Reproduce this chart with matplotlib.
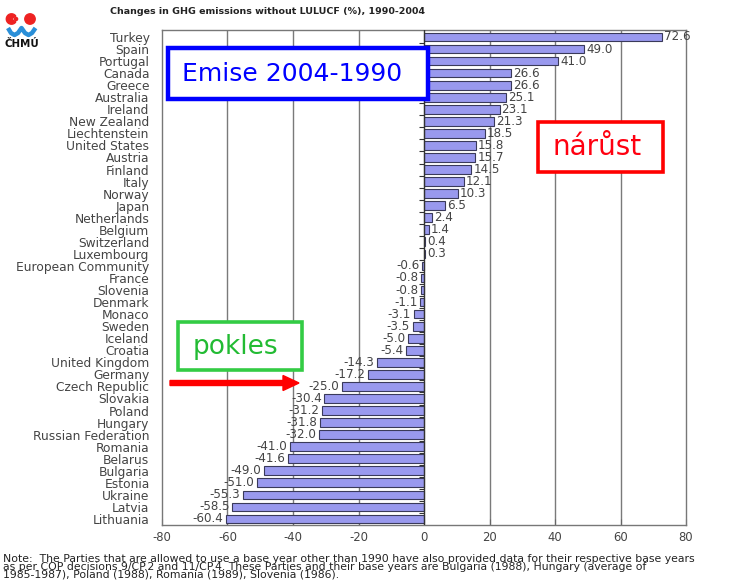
# Changes in GHG emissions without LULUCF (%), 1990-2004 - horizontal bar chart
# ============================================

# Imports
import numpy as np
import matplotlib.pyplot as plt
from matplotlib.patches import Rectangle, Circle, Wedge, FancyArrow

# Data
# ============================================
countries = [
    "Turkey", "Spain", "Portugal", "Canada", "Greece", "Australia", "Ireland",
    "New Zealand", "Liechtenstein", "United States", "Austria", "Finland",
    "Italy", "Norway", "Japan", "Netherlands", "Belgium", "Switzerland",
    "Luxembourg", "European Community", "France", "Slovenia", "Denmark",
    "Monaco", "Sweden", "Iceland", "Croatia", "United Kingdom", "Germany",
    "Czech Republic", "Slovakia", "Poland", "Hungary", "Russian Federation",
    "Romania", "Belarus", "Bulgaria", "Estonia", "Ukraine", "Latvia", "Lithuania",
]
changes = [
    72.6, 49.0, 41.0, 26.6, 26.6, 25.1, 23.1, 21.3, 18.5, 15.8, 15.7, 14.5,
    12.1, 10.3, 6.5, 2.4, 1.4, 0.4, 0.3, -0.6, -0.8, -0.8, -1.1, -3.1, -3.5,
    -5.0, -5.4, -14.3, -17.2, -25.0, -30.4, -31.2, -31.8, -32.0, -41.0, -41.6,
    -49.0, -51.0, -55.3, -58.5, -60.4,
]
x_ticks = [-80, -60, -40, -20, 0, 20, 40, 60, 80]

title = "Changes in GHG emissions without LULUCF (%), 1990-2004"
note = ("Note:  The Parties that are allowed to use a base year other than 1990 have also provided data for their respective base years\n"
        "as per COP decisions 9/CP.2 and 11/CP.4. These Parties and their base years are Bulgaria (1988), Hungary (average of\n"
        "1985-1987), Poland (1988), Romania (1989), Slovenia (1986).")

# Plotting Configuration
# ============================================
plt.rcParams.update({
    "font.family": "DejaVu Sans",
    "font.size": 8,
})

W, H = 744, 581
bar_color = '#9999ee'
edge_color = '#3a3a5a'
text_gray = '#444444'
grid_gray = '#7a7a7a'


def main():
    fig = plt.figure(figsize=(W / 100, H / 100), dpi=100)
    fig.patch.set_facecolor('white')

    # ------------------------------------------------------------------
    # 1. Bar chart
    # ------------------------------------------------------------------
    ax = fig.add_axes([162 / W, 1 - 525 / H, (686 - 162) / W, (525 - 30) / H])
    y = np.arange(len(countries))
    ax.barh(y, changes, height=0.72, color=bar_color, edgecolor=edge_color,
            linewidth=0.8, zorder=3)

    for yi, v in zip(y, changes):
        if v >= 0:
            ax.text(v + 0.6, yi, f"{v:.1f}", ha='left', va='center',
                    color=text_gray, fontsize=8.6, zorder=4)
        else:
            ax.text(v - 0.8, yi, f"{v:.1f}", ha='right', va='center',
                    color=text_gray, fontsize=8.6, zorder=4)

    ax.set_xlim(x_ticks[0], x_ticks[-1])
    ax.set_ylim(len(countries) - 0.5, -0.58)
    ax.set_xticks(x_ticks)
    ax.set_xticklabels([str(t) for t in x_ticks], color=text_gray, fontsize=8.4)
    ax.tick_params(axis='x', direction='in', length=4, color='#666666', pad=4)
    ax.set_yticks(y)
    ax.set_yticklabels(countries, color=text_gray, fontsize=8.8)
    ax.tick_params(axis='y', length=0, pad=9)

    # vertical gridlines and the zero axis with category ticks
    for t in x_ticks[1:-1]:
        if t != 0:
            ax.axvline(t, color=grid_gray, linewidth=1.0, zorder=1)
    ax.axvline(0, color='#333333', linewidth=1.0, zorder=5)
    ax.hlines(y[:-1] + 0.5, -1.6, 0, color='#333333', linewidth=0.8, zorder=5)

    for side in ['left', 'bottom', 'top', 'right']:
        ax.spines[side].set_color('#777777')
        ax.spines[side].set_linewidth(1.0)

    # ------------------------------------------------------------------
    # 2. Overlay in pixel coordinates: title, logo, boxes, arrow, note
    # ------------------------------------------------------------------
    ov = fig.add_axes([0, 0, 1, 1], zorder=10)
    ov.set_xlim(0, W)
    ov.set_ylim(H, 0)
    ov.axis('off')
    ov.patch.set_alpha(0)

    ov.text(268, 11, title, ha='center', va='center', fontsize=6.8,
            fontweight='bold', color='#222222')

    # logo
    ov.add_patch(Wedge((11.5, 19), 5.2, 35, 325, color='#ee2222'))
    ov.add_patch(Circle((16, 19), 1.6, color='#ee2222'))
    ov.add_patch(Circle((30, 19), 5.2, color='#ee2222'))
    ov.plot([8, 11, 14.5, 18, 21.5, 25, 28.5, 32, 35.5],
            [28, 33, 35, 33, 28, 33, 35, 33, 28],
            color='#2a8fd8', linewidth=3.2, solid_capstyle='butt',
            solid_joinstyle='round')
    ov.text(22, 44, "ČHMÚ", ha='center', va='center', fontsize=7.4,
            fontweight='bold', color='#111111')

    # annotation boxes
    ov.add_patch(Rectangle((168, 48), 260, 51, fill=True, facecolor='white',
                           edgecolor='#0000ff', linewidth=3.2))
    ov.text(292, 74, "Emise 2004-1990", ha='center', va='center',
            fontsize=18, color='#0000ff')

    ov.add_patch(Rectangle((538, 122), 125, 50, fill=True, facecolor='white',
                           edgecolor='#ff0000', linewidth=2.6))
    ov.text(597, 147, "nárůst", ha='center', va='center', fontsize=20,
            color='#ff0010')

    ov.add_patch(Rectangle((178, 322), 124, 48, fill=True, facecolor='white',
                           edgecolor='#33cc44', linewidth=2.6))
    ov.text(235, 347, "pokles", ha='center', va='center', fontsize=19,
            color='#22bb33')

    ov.add_patch(FancyArrow(170, 383, 113, 0, width=5, head_width=15,
                            head_length=16, length_includes_head=False,
                            color='#ff0000'))

    ov.text(3, 567, note, ha='left', va='center', fontsize=7.8,
            color='#222222', linespacing=0.7)

    fig.savefig("out.png", dpi=100, facecolor='white')


# Main Execution
if __name__ == '__main__':
    main()
